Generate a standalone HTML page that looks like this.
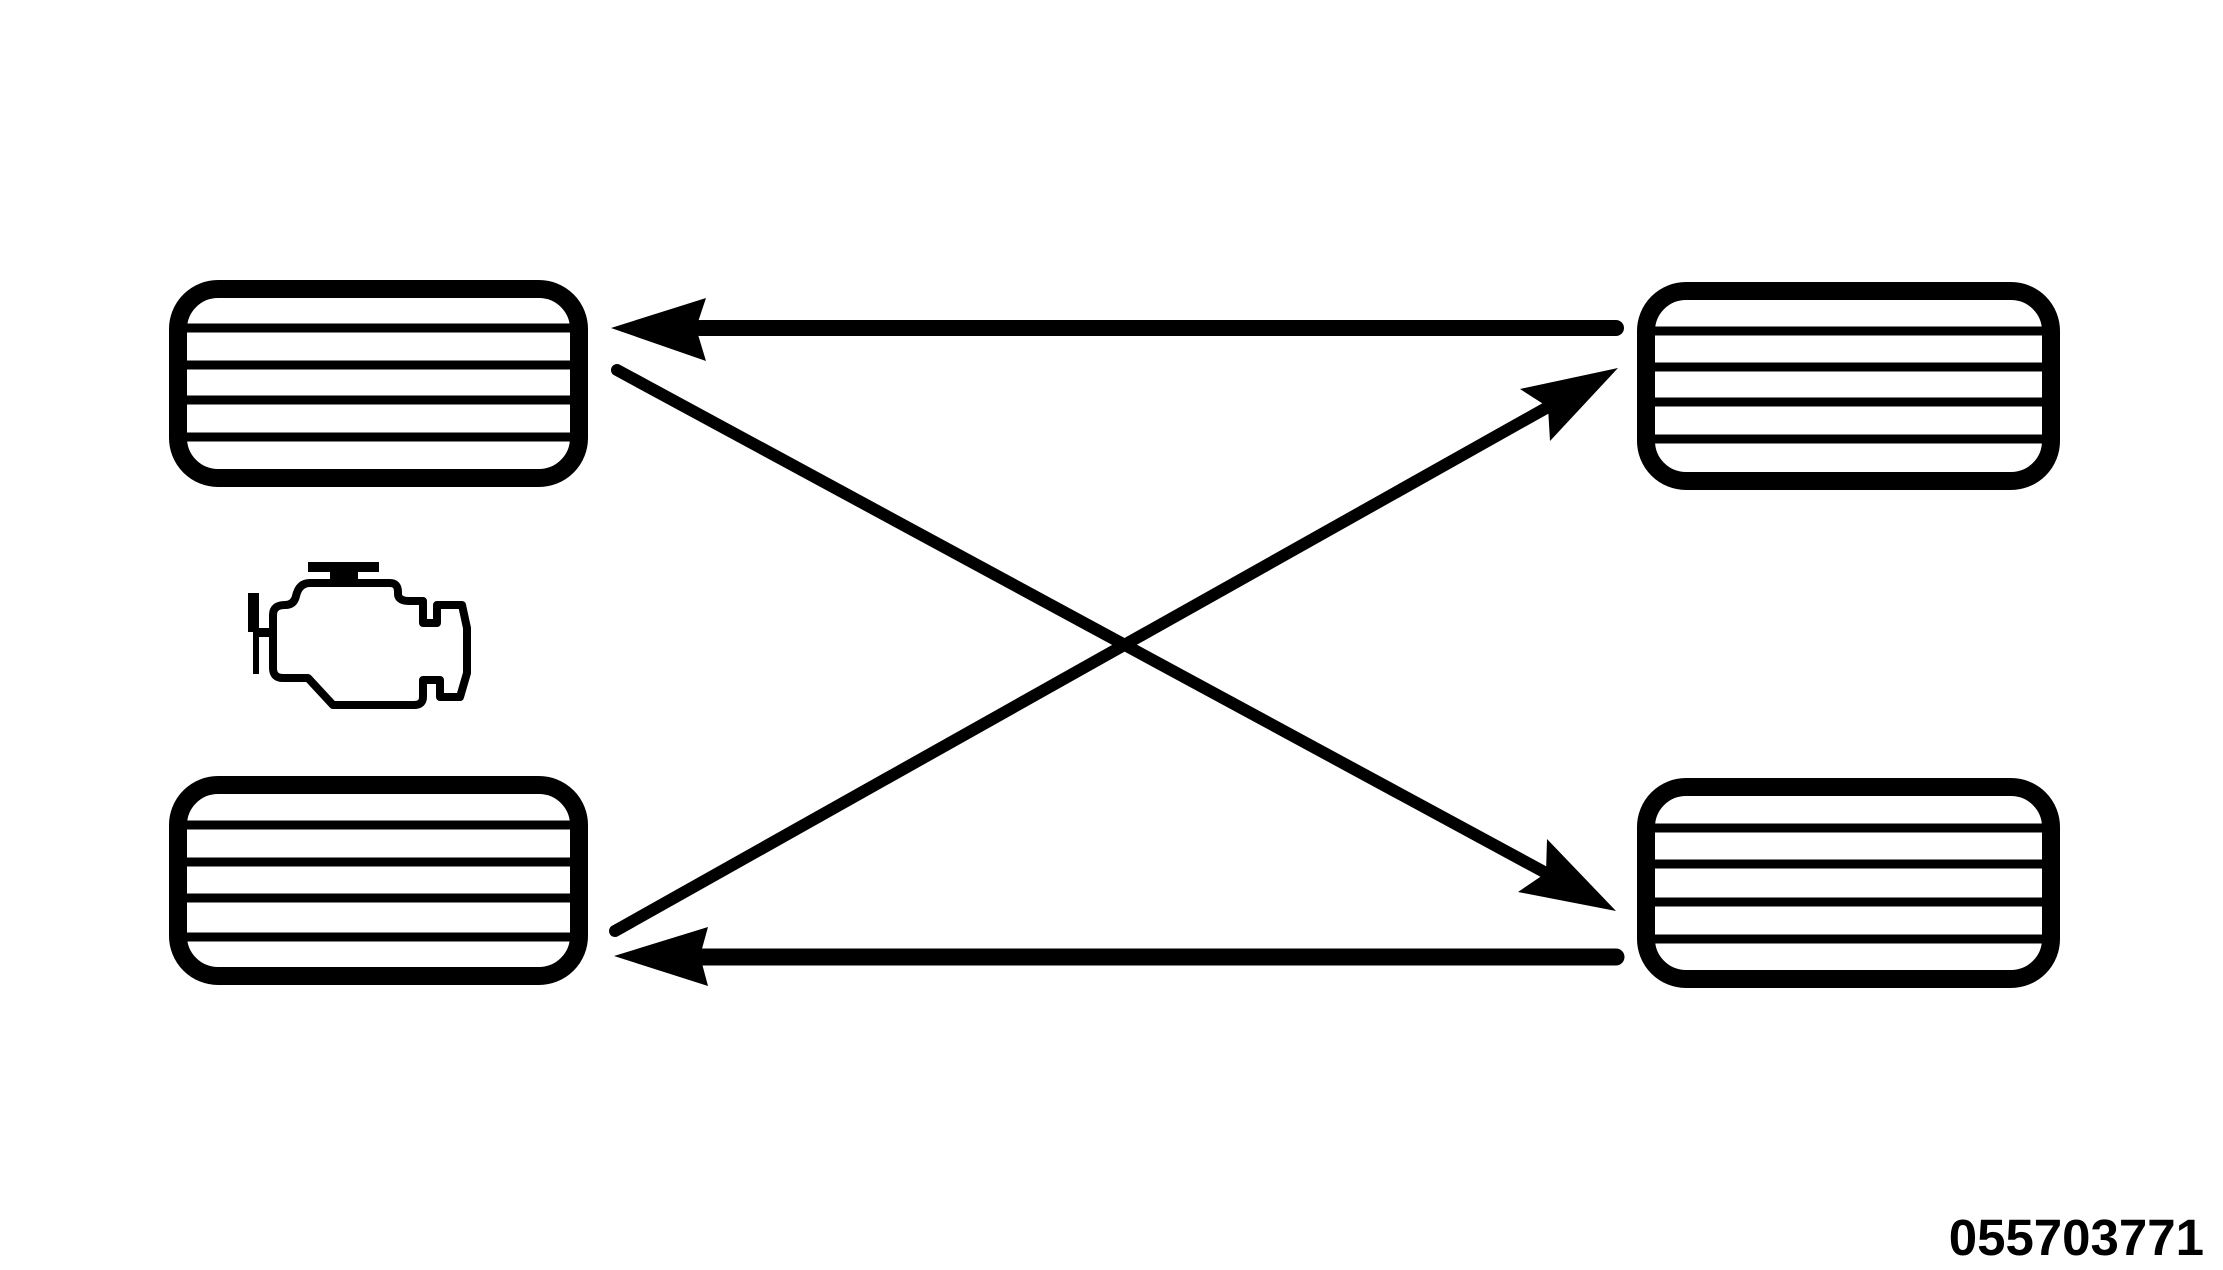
<!DOCTYPE html>
<html><head><meta charset="utf-8"><style>
html,body{margin:0;padding:0;background:#fff;}
svg{display:block;}
</style></head><body>
<svg width="2223" height="1270" viewBox="0 0 2223 1270" xmlns="http://www.w3.org/2000/svg">
<!-- Top-left tire -->
<rect x="178" y="289" width="401" height="189" rx="40" fill="none" stroke="#000" stroke-width="18"/>
<g stroke="#000" stroke-width="9">
<line x1="185" y1="328" x2="572" y2="328"/><line x1="185" y1="365" x2="572" y2="365"/>
<line x1="185" y1="400" x2="572" y2="400"/><line x1="185" y1="437" x2="572" y2="437"/>
</g>
<!-- Bottom-left tire -->
<rect x="178" y="785" width="401" height="191" rx="40" fill="none" stroke="#000" stroke-width="18"/>
<g stroke="#000" stroke-width="9">
<line x1="185" y1="825" x2="572" y2="825"/><line x1="185" y1="862" x2="572" y2="862"/>
<line x1="185" y1="898" x2="572" y2="898"/><line x1="185" y1="937" x2="572" y2="937"/>
</g>
<!-- Top-right tire -->
<rect x="1646" y="291" width="405" height="190" rx="40" fill="none" stroke="#000" stroke-width="18"/>
<g stroke="#000" stroke-width="9">
<line x1="1654" y1="331" x2="2042" y2="331"/><line x1="1654" y1="367" x2="2042" y2="367"/>
<line x1="1654" y1="402" x2="2042" y2="402"/><line x1="1654" y1="439" x2="2042" y2="439"/>
</g>
<!-- Bottom-right tire -->
<rect x="1646" y="787" width="405" height="192" rx="40" fill="none" stroke="#000" stroke-width="18"/>
<g stroke="#000" stroke-width="9">
<line x1="1654" y1="828" x2="2042" y2="828"/><line x1="1654" y1="864" x2="2042" y2="864"/>
<line x1="1654" y1="902" x2="2042" y2="902"/><line x1="1654" y1="939" x2="2042" y2="939"/>
</g>
<!-- Horizontal arrows -->
<line x1="700" y1="328" x2="1616" y2="328" stroke="#000" stroke-width="16" stroke-linecap="round"/>
<polygon points="611,328 706,298 696,328 706,361" fill="#000"/>
<line x1="700" y1="957" x2="1616" y2="957" stroke="#000" stroke-width="17" stroke-linecap="round"/>
<polygon points="614,956 708,927 700,956 708,986" fill="#000"/>
<!-- Diagonal arrows -->
<line x1="617" y1="370" x2="1546" y2="873" stroke="#000" stroke-width="12" stroke-linecap="round"/>
<polygon points="1616,911 1518,892 1546,873 1547,839" fill="#000"/>
<line x1="615" y1="931" x2="1548" y2="407" stroke="#000" stroke-width="12" stroke-linecap="round"/>
<polygon points="1618,368 1550,441 1548,407 1520,389" fill="#000"/>
<!-- Engine icon -->
<g fill="none" stroke="#000" stroke-width="8" stroke-linejoin="round">
<path d="M273,615 Q273,605 285,605 Q294,605 296,596 Q299,583 310,583 L390,583 Q398,583 398,592 L398,594 Q398,601 410,601 L423,601 L423,623 L437,623 L437,605 L462,605 L467,628 L467,673 L460,697 L440,697 L440,680 L423,680 L423,697 Q423,705 414,705 L333,705 L308,678 L283,678 Q273,678 273,668 Z"/>
</g>
<rect x="308" y="562" width="71" height="10" fill="#000"/>
<rect x="330" y="570" width="28" height="12" fill="#000"/>
<rect x="248" y="593" width="11" height="39" fill="#000"/>
<rect x="253" y="632" width="6" height="42" fill="#000"/>
<rect x="257" y="628" width="16" height="9" fill="#000"/>
<!-- Label -->
<text x="2204" y="1255" text-anchor="end" style="font-family:'Liberation Sans',Arial,sans-serif;font-weight:bold;font-size:51px" fill="#000">055703771</text>
</svg>
</body></html>
